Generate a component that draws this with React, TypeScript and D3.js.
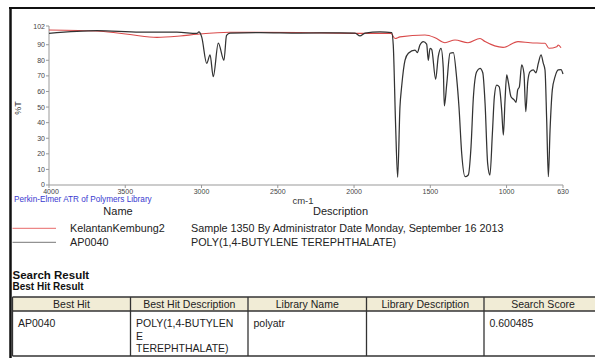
import React from "react";
import * as d3 from "d3";

// ---- data ----
const xTicks = [4000, 3500, 3000, 2500, 2000, 1500, 1000, 630];
const yTicks = [0, 10, 20, 30, 40, 50, 60, 70, 80, 90, 102];

// AP0040 library spectrum (wavenumber, %T)
const refWn = [4000, 3685, 3403, 3161, 3030, 3017, 2999, 2966, 2944, 2923, 2890, 2853, 2836, 2813, 2617, 2354, 2092, 1994, 1961, 1928, 1830, 1753, 1743, 1728, 1714, 1699, 1688, 1666, 1644, 1600, 1585, 1568, 1546, 1524, 1513, 1502, 1491, 1465, 1448, 1430, 1415, 1408, 1392, 1371, 1349, 1327, 1312, 1294, 1272, 1251, 1233, 1218, 1196, 1174, 1156, 1141, 1124, 1109, 1093, 1080, 1065, 1048, 1032, 1021, 1010, 999, 989, 971, 949, 938, 927, 916, 901, 886, 874, 861, 846, 825, 807, 792, 774, 759, 748, 737, 726, 715, 700, 682, 661, 643, 630];
const refT = [97.3, 99, 98, 98, 97.3, 98.2, 95, 78, 83.4, 69.5, 91, 80, 96, 97.5, 97.8, 97.5, 97.6, 97.4, 95.6, 97.5, 98.2, 97.8, 90, 40, 4.9, 50, 63, 80, 84.5, 86.6, 85, 89.8, 92, 90.4, 80, 87.7, 87, 67.8, 82.3, 87.7, 75, 50.7, 65, 84.5, 85, 68.4, 50, 20, 5.3, 6.4, 24.6, 55.6, 72.7, 74.8, 72, 52.4, 13.9, 6.4, 33, 56.6, 64.1, 63, 48, 32, 54.5, 70.6, 66.3, 56.6, 54.5, 53, 61, 63, 77, 71.6, 47, 66.3, 72.7, 73.8, 72, 78, 83.4, 78, 73.8, 41.7, 5.3, 35, 61, 69.5, 73.8, 74, 71.2];

// KelantanKembung2 sample spectrum
const sampleWn = [4000, 3666, 3469, 3292, 3141, 3030, 2813, 2354, 1961, 1797, 1758, 1731, 1699, 1535, 1469, 1404, 1338, 1253, 1174, 1141, 1023, 925, 846, 748, 722, 671, 661, 643];
const sampleT = [99.4, 98.6, 96.5, 94.7, 95.6, 96.7, 98, 97.8, 97.3, 97.3, 97.3, 94, 95, 96.2, 94.5, 91.3, 93, 91.3, 94, 92, 88.3, 92, 91.3, 90.9, 87.7, 88.7, 89.8, 88];

const legendNames = ["KelantanKembung2", "AP0040"];
const legendDescs = ["Sample 1350 By Administrator Date Monday, September 16 2013", "POLY(1,4-BUTYLENE TEREPHTHALATE)"];
const legendColors = ["#e86a6a", "#777777"];

const tableHeaders = ["Best Hit", "Best Hit Description", "Library Name", "Library Description", "Search Score"];
const tableRow = [["AP0040"], ["POLY(1,4-BUTYLEN", "E", "TEREPHTHALATE)"], ["polyatr"], [""], ["0.600485"]];

const FONT = "'Liberation Sans', Arial, sans-serif";

export default function App() {
  const x = d3.scaleLinear().domain([4000, 630]).range([49, 563]);
  const y = d3.scaleLinear().domain([0, 102]).range([185, 26]);

  const line = d3
    .line<[number, number]>()
    .x((d) => x(d[0]))
    .y((d) => y(d[1]))
    .curve(d3.curveMonotoneX);

  const refPath = line(refWn.map((w, i) => [w, refT[i]] as [number, number])) || "";
  const samplePath = line(sampleWn.map((w, i) => [w, sampleT[i]] as [number, number])) || "";

  const colEdges = [12.5, 130.5, 248, 366.5, 484, 602];
  const tTop = 297, tHead = 311, tBot = 356;

  return (
    <svg
      width={595}
      height={358}
      style={{ position: "absolute", left: 0, top: 0, background: "#fff" }}
      fontFamily={FONT}
    >
      <rect x={0} y={0} width={595} height={358} fill="#fff" />
      {/* outer frame lines */}
      <line x1={9} x2={595} y1={8} y2={8} stroke="#111" strokeWidth={2.2} />
      <line x1={10.5} x2={10.5} y1={7} y2={358} stroke="#111" strokeWidth={2.5} />

      {/* y axis */}
      <line x1={x(4000)} x2={x(4000)} y1={y(102)} y2={y(0)} stroke="#999" strokeWidth={1} />
      {yTicks.map((t) => (
        <g key={"y" + t}>
          <line x1={x(4000) - 3} x2={x(4000)} y1={y(t)} y2={y(t)} stroke="#999" />
          <text x={x(4000) - 4} y={y(t) + (t === 0 ? 1.5 : 2.5)} fontSize={7} fill="#444" textAnchor="end">
            {t}
          </text>
        </g>
      ))}
      <text
        transform={`translate(21,108) rotate(-90)`}
        fontSize={9}
        fill="#333"
        textAnchor="middle"
      >
        %T
      </text>

      {/* x axis */}
      <line x1={x(4000)} x2={x(630)} y1={y(0)} y2={y(0)} stroke="#999" strokeWidth={1} />
      {xTicks.map((t) => (
        <g key={"x" + t}>
          <line x1={x(t)} x2={x(t)} y1={y(0)} y2={y(0) + 3} stroke="#999" />
          <text x={x(t) + (t === 4000 ? 2 : 0)} y={194} fontSize={7} fill="#444" textAnchor="middle">
            {t}
          </text>
        </g>
      ))}
      <text x={303} y={204} fontSize={9.5} fill="#333" textAnchor="middle">
        cm-1
      </text>

      {/* spectra */}
      <path d={samplePath} fill="none" stroke="#d94a4a" strokeWidth={1.1} />
      <path d={refPath} fill="none" stroke="#333" strokeWidth={1.25} />

      <text x={14} y={201.5} fontSize={8.2} fill="#3a3ad0">
        Perkin-Elmer ATR of Polymers Library
      </text>

      {/* legend */}
      <text x={118} y={215} fontSize={11} fill="#222" textAnchor="middle">
        Name
      </text>
      <text x={340.5} y={215} fontSize={11} fill="#222" textAnchor="middle">
        Description
      </text>
      {legendNames.map((n, i) => (
        <g key={n}>
          <line x1={12.5} x2={56} y1={228.3 + i * 14} y2={228.3 + i * 14} stroke={legendColors[i]} strokeWidth={1} />
          <text x={70} y={231.5 + i * 14.3} fontSize={10.8} fill="#222">
            {n}
          </text>
          <text x={191} y={231.5 + i * 14.3} fontSize={10.8} fill="#222">
            {legendDescs[i]}
          </text>
        </g>
      ))}

      {/* search result */}
      <text x={12.5} y={278.5} fontSize={11.5} fontWeight="bold" fill="#111">
        Search Result
      </text>
      <text x={12.5} y={289.5} fontSize={10} fontWeight="bold" fill="#111">
        Best Hit Result
      </text>

      {/* table */}
      <rect x={colEdges[0]} y={tTop} width={colEdges[5] - colEdges[0]} height={tHead - tTop} fill="#f1ecd6" />
      <line x1={colEdges[0]} x2={595} y1={tTop} y2={tTop} stroke="#333" strokeWidth={1.3} />
      <line x1={colEdges[0]} x2={595} y1={tHead} y2={tHead} stroke="#333" strokeWidth={1.3} />
      <line x1={colEdges[0]} x2={595} y1={tBot} y2={tBot} stroke="#333" strokeWidth={1.3} />
      {colEdges.slice(0, 5).map((cx, i) => (
        <line key={"c" + i} x1={cx} x2={cx} y1={tTop} y2={tBot} stroke="#333" strokeWidth={1.3} />
      ))}
      {tableHeaders.map((h, i) => (
        <text
          key={h}
          x={(colEdges[i] + colEdges[i + 1]) / 2}
          y={307.5}
          fontSize={10.5}
          fill="#222"
          textAnchor="middle"
        >
          {h}
        </text>
      ))}
      {tableRow.map((cell, i) =>
        cell.map((ln, j) => (
          <text key={i + "-" + j} x={colEdges[i] + 5.5} y={327 + j * 12.5} fontSize={10.5} fill="#222">
            {ln}
          </text>
        ))
      )}
    </svg>
  );
}
